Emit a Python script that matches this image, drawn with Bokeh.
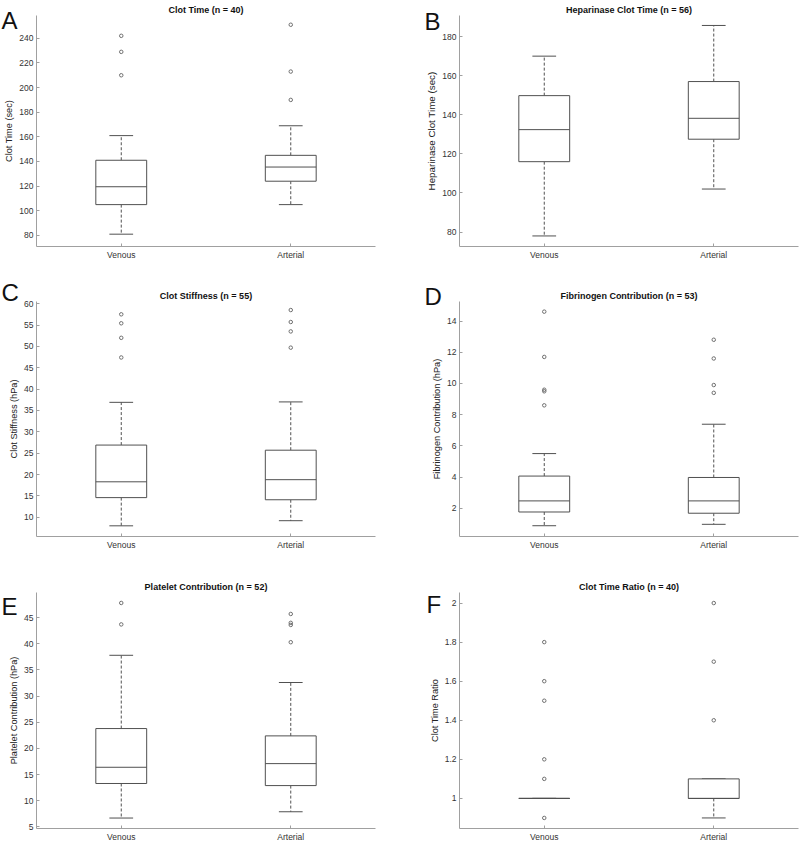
from bokeh.plotting import figure
from bokeh.models import ColumnDataSource, FixedTicker, NumeralTickFormatter, Label, Range1d
from bokeh.layouts import column, row
from bokeh.embed import file_html
from bokeh.resources import INLINE

groups = ["Venous", "Arterial"]
group_x = [1, 2]

# five-number summaries: [lower whisker, Q1, median, Q3, upper whisker]
clot_time_venous = [81, 105, 119.5, 141, 161]
clot_time_arterial = [105, 124, 135.5, 145, 169]
clot_time_venous_out = [210, 229, 242]
clot_time_arterial_out = [190, 213, 251]
clot_time_ticks = [80, 100, 120, 140, 160, 180, 200, 220, 240]

hep_venous = [78, 116, 132.4, 149.8, 170]
hep_arterial = [102, 127.5, 138.2, 157, 185.7]
hep_venous_out = []
hep_arterial_out = []
hep_ticks = [80, 100, 120, 140, 160, 180]

stiff_venous = [8.0, 14.6, 18.3, 26.9, 36.9]
stiff_arterial = [9.2, 14.1, 18.8, 25.7, 37.0]
stiff_venous_out = [47.4, 52.0, 55.4, 57.5]
stiff_arterial_out = [49.7, 53.5, 55.7, 58.5]
stiff_ticks = [10, 15, 20, 25, 30, 35, 40, 45, 50, 55, 60]

fib_venous = [0.89, 1.77, 2.48, 4.07, 5.51]
fib_arterial = [0.98, 1.69, 2.48, 3.98, 7.39]
fib_venous_out = [8.6, 9.5, 9.6, 11.7, 14.6]
fib_arterial_out = [9.4, 9.9, 11.6, 12.8]
fib_ticks = [2, 4, 6, 8, 10, 12, 14]

plt_venous = [6.7, 13.3, 16.4, 23.8, 37.8]
plt_arterial = [7.9, 12.9, 17.1, 22.4, 32.6]
plt_venous_out = [43.7, 47.8]
plt_arterial_out = [40.3, 43.6, 44.0, 45.7]
plt_ticks = [5, 10, 15, 20, 25, 30, 35, 40, 45]

ratio_venous = [1.0, 1.0, 1.0, 1.0, 1.0]
ratio_arterial = [0.9, 1.0, 1.0, 1.1, 1.1]
ratio_venous_out = [0.9, 1.1, 1.2, 1.5, 1.6, 1.8]
ratio_arterial_out = [1.4, 1.7, 2.0]
ratio_ticks = [1, 1.2, 1.4, 1.6, 1.8, 2]

FONT = "Liberation Sans"
BOX_C = "#505050"
AXIS_C = "#a0a0a0"
BOX_W = 0.30
CAP_W = 0.14
XR = (0.5, 2.5)


def make_panel(title, ylabel, venous, arterial, vout, aout, yr, ticks, fmt,
               width, height, bl, br, bt, bb, label_size="9.2px"):
    p = figure(width=width, height=height, x_range=Range1d(*XR), y_range=Range1d(*yr),
               output_backend="svg", toolbar_location=None, tools="",
               min_border_left=bl, min_border_right=br, min_border_top=bt, min_border_bottom=bb)
    p.outline_line_color = None
    p.xgrid.visible = False
    p.ygrid.visible = False
    p.background_fill_color = "white"
    p.border_fill_color = "white"

    stats = [venous, arterial]
    src = ColumnDataSource(dict(
        x=group_x,
        low=[s[0] for s in stats], q1=[s[1] for s in stats], med=[s[2] for s in stats],
        q3=[s[3] for s in stats], high=[s[4] for s in stats],
        bl=[x - BOX_W / 2 for x in group_x], br=[x + BOX_W / 2 for x in group_x],
        cl=[x - CAP_W / 2 for x in group_x], cr=[x + CAP_W / 2 for x in group_x],
    ))
    p.segment(x0="x", y0="q3", x1="x", y1="high", source=src, line_color=BOX_C,
              line_width=1, line_dash="3 2")
    p.segment(x0="x", y0="q1", x1="x", y1="low", source=src, line_color=BOX_C,
              line_width=1, line_dash="3 2")
    p.segment(x0="cl", y0="high", x1="cr", y1="high", source=src, line_color=BOX_C, line_width=1)
    p.segment(x0="cl", y0="low", x1="cr", y1="low", source=src, line_color=BOX_C, line_width=1)
    p.quad(left="bl", right="br", bottom="q1", top="q3", source=src, fill_color="white",
           line_color=BOX_C, line_width=1)
    p.segment(x0="bl", y0="med", x1="br", y1="med", source=src, line_color=BOX_C, line_width=1)
    ox = [group_x[0]] * len(vout) + [group_x[1]] * len(aout)
    oy = list(vout) + list(aout)
    if oy:
        p.scatter(x=ox, y=oy, marker="circle", size=3.5, fill_color=None,
                  line_color="#707070", line_width=1)

    p.title.text = title
    p.title.align = "center"
    p.title.text_font = FONT
    p.title.text_font_size = "9px"
    p.title.text_font_style = "bold"
    p.title.text_color = "#111111"
    p.title.standoff = 2

    for ax in (p.xaxis[0], p.yaxis[0]):
        ax.axis_line_color = AXIS_C
        ax.major_tick_line_color = AXIS_C
        ax.minor_tick_line_color = None
        ax.major_tick_in = 3
        ax.major_tick_out = 0
        ax.major_label_text_font = FONT
        ax.major_label_text_font_size = "8.5px"
        ax.major_label_text_color = "#333333"
        ax.major_label_standoff = 3

    p.xaxis.ticker = FixedTicker(ticks=group_x)
    p.xaxis.major_label_overrides = {group_x[0]: groups[0], group_x[1]: groups[1]}
    p.yaxis.ticker = FixedTicker(ticks=ticks)
    p.yaxis.formatter = NumeralTickFormatter(format=fmt)
    p.yaxis.axis_label = ylabel
    p.yaxis.axis_label_text_font = FONT
    p.yaxis.axis_label_text_font_size = label_size
    p.yaxis.axis_label_text_font_style = "normal"
    p.yaxis.axis_label_text_color = "#222222"
    p.yaxis.axis_label_standoff = 2
    p._geom = (width - bl - br, height - bt - bb, yr)
    return p


def letter(p, text, side, dx_px, dy_px):
    # panel letter, placed in an empty side panel so it is not clipped to the frame
    fw, fh, yr = p._geom
    x = XR[0] + dx_px * (XR[1] - XR[0]) / fw
    y = yr[1] + dy_px * (yr[1] - yr[0]) / fh
    lab = Label(x=x, y=y, x_units="data", y_units="data", text=text, text_font=FONT,
                text_font_size="24px", text_color="#111111",
                text_baseline="top", text_align="left")
    p.add_layout(lab, side)


W = 400
pA = make_panel("Clot Time (n = 40)", "Clot Time (sec)",
                clot_time_venous, clot_time_arterial, clot_time_venous_out, clot_time_arterial_out,
                (71, 258.5), clot_time_ticks, "0", W, 280, 36, 25, 15, 33)
pB = make_panel("Heparinase Clot Time (n = 56)", "Heparinase Clot Time (sec)",
                hep_venous, hep_arterial, hep_venous_out, hep_arterial_out,
                (72.6, 190.8), hep_ticks, "0", W, 280, 59, 2, 14, 34, label_size="9.8px")
pC = make_panel("Clot Stiffness (n = 55)", "Clot Stiffness (hPa)",
                stiff_venous, stiff_arterial, stiff_venous_out, stiff_arterial_out,
                (5.5, 60.5), stiff_ticks, "0", W, 280, 36, 25, 21, 24)
pD = make_panel("Fibrinogen Contribution (n = 53)", "Fibrinogen Contribution (hPa)",
                fib_venous, fib_arterial, fib_venous_out, fib_arterial_out,
                (0.2, 15.25), fib_ticks, "0", W, 280, 59, 2, 19, 21)
pE = make_panel("Platelet Contribution (n = 52)", "Platelet Contribution (hPa)",
                plt_venous, plt_arterial, plt_venous_out, plt_arterial_out,
                (4.7, 49.8), plt_ticks, "0", W, 284, 36, 25, 32, 14)
pF = make_panel("Clot Time Ratio (n = 40)", "Clot Time Ratio",
                ratio_venous, ratio_arterial, ratio_venous_out, ratio_arterial_out,
                (0.846, 2.054), ratio_ticks, "0.[0]", W, 284, 59, 2, 24, 14)

letter(pA, "A", "right", -35, 9)
letter(pC, "C", "right", -35, 23)
letter(pE, "E", "right", -35, 0)
letter(pB, "B", "left", -35, 8)
letter(pD, "D", "left", -35, 19)
letter(pF, "F", "left", -33, 2)

layout = column(row(pA, pB), row(pC, pD), row(pE, pF))
open("out.html", "w").write(file_html(layout, INLINE))
